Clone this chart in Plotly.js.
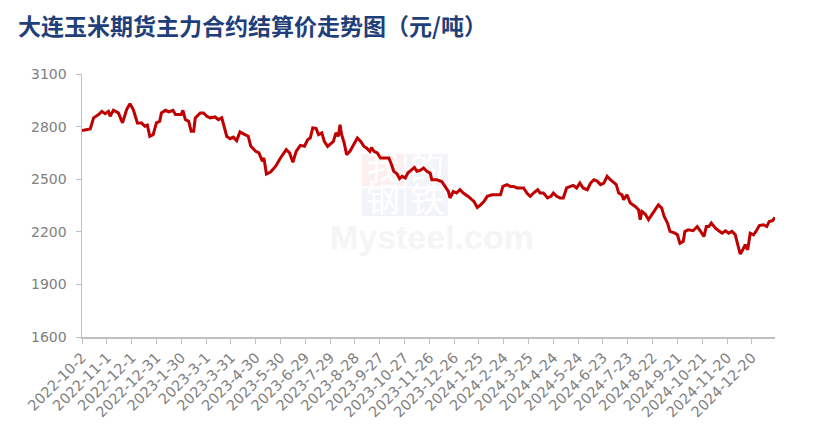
<!DOCTYPE html>
<html>
<head>
<meta charset="utf-8">
<script src="https://cdn.plot.ly/plotly-3.0.1.min.js"></script>
<style>html,body{margin:0;padding:0;background:#fff;}#chart{width:819px;height:441px;}</style>
</head>
<body>
<div id="chart"></div>
<script>
const dates = [
"2022-10-02","2022-10-12","2022-10-16","2022-10-22","2022-10-26","2022-10-30","2022-11-03","2022-11-05","2022-11-09","2022-11-15",
"2022-11-20","2022-11-25","2022-11-29","2022-12-03","2022-12-08","2022-12-13","2022-12-17","2022-12-20","2022-12-23","2022-12-27",
"2022-12-31","2023-01-04","2023-01-06","2023-01-11","2023-01-15","2023-01-20","2023-01-23","2023-01-30","2023-02-01","2023-02-04",
"2023-02-08","2023-02-11","2023-02-14","2023-02-16","2023-02-22","2023-02-26","2023-03-02","2023-03-06","2023-03-12","2023-03-16",
"2023-03-20","2023-03-23","2023-03-26","2023-03-30","2023-04-03","2023-04-07","2023-04-11","2023-04-17","2023-04-21","2023-04-24",
"2023-04-27","2023-04-30","2023-05-04","2023-05-08","2023-05-10","2023-05-13","2023-05-18","2023-05-24","2023-05-30","2023-06-03",
"2023-06-06","2023-06-10","2023-06-14","2023-06-18","2023-06-23","2023-06-28","2023-07-02","2023-07-05","2023-07-08","2023-07-12",
"2023-07-15","2023-07-19","2023-07-22","2023-07-26","2023-07-30","2023-08-02","2023-08-05","2023-08-08","2023-08-10","2023-08-12",
"2023-08-15","2023-08-18","2023-08-22","2023-08-26","2023-08-31","2023-09-04","2023-09-08","2023-09-11","2023-09-15","2023-09-17",
"2023-09-20","2023-09-24","2023-09-28","2023-10-04","2023-10-08","2023-10-11","2023-10-14","2023-10-18","2023-10-21","2023-10-24",
"2023-10-28","2023-10-31","2023-11-05","2023-11-08","2023-11-11","2023-11-15","2023-11-19","2023-11-23","2023-11-27","2023-11-29",
"2023-12-05","2023-12-11","2023-12-15","2023-12-19","2023-12-21","2023-12-25","2023-12-29","2024-01-02","2024-01-06","2024-01-12",
"2024-01-19","2024-01-23","2024-01-27","2024-01-31","2024-02-04","2024-02-10","2024-02-16","2024-02-20","2024-02-23","2024-02-28",
"2024-03-03","2024-03-07","2024-03-11","2024-03-15","2024-03-19","2024-03-23","2024-03-27","2024-03-31","2024-04-05","2024-04-08",
"2024-04-12","2024-04-17","2024-04-21","2024-04-24","2024-04-28","2024-05-02","2024-05-06","2024-05-10","2024-05-14","2024-05-18",
"2024-05-22","2024-05-26","2024-05-30","2024-06-04","2024-06-08","2024-06-12","2024-06-16","2024-06-20","2024-06-24","2024-06-28",
"2024-07-02","2024-07-06","2024-07-09","2024-07-12","2024-07-16","2024-07-18","2024-07-22","2024-07-26","2024-08-01","2024-08-05",
"2024-08-07","2024-08-09","2024-08-13","2024-08-17","2024-08-21","2024-08-25","2024-08-29","2024-09-02","2024-09-05","2024-09-09",
"2024-09-12","2024-09-18","2024-09-21","2024-09-24","2024-09-28","2024-09-30","2024-10-04","2024-10-10","2024-10-15","2024-10-19",
"2024-10-23","2024-10-26","2024-10-29","2024-11-01","2024-11-06","2024-11-10","2024-11-14","2024-11-18","2024-11-22","2024-11-26",
"2024-11-30","2024-12-03","2024-12-06","2024-12-09","2024-12-12","2024-12-15","2024-12-18","2024-12-22","2024-12-25","2024-12-29",
"2025-01-03","2025-01-07","2025-01-10","2025-01-14","2025-01-17"
];
const prices = [
2777,2787,2850,2869,2887,2874,2887,2859,2893,2878,
2821,2897,2931,2897,2821,2821,2802,2808,2745,2754,
2821,2830,2878,2893,2884,2893,2869,2869,2893,2840,
2830,2773,2773,2850,2878,2878,2859,2850,2855,2840,
2850,2793,2745,2731,2740,2720,2770,2754,2745,2690,
2675,2659,2650,2602,2621,2530,2541,2573,2621,2650,
2669,2650,2596,2659,2693,2688,2726,2735,2793,2790,
2754,2764,2716,2687,2707,2716,2764,2745,2811,2754,
2707,2640,2659,2697,2735,2716,2687,2678,2659,2680,
2659,2650,2621,2621,2621,2587,2545,2530,2503,2516,
2507,2535,2554,2567,2545,2550,2564,2545,2535,2497,
2497,2487,2459,2430,2393,2430,2421,2440,2421,2402,
2373,2339,2354,2373,2402,2411,2411,2411,2459,2469,
2459,2459,2450,2450,2450,2421,2402,2421,2440,2421,
2421,2393,2402,2421,2402,2393,2393,2450,2459,2465,
2450,2478,2450,2440,2478,2497,2489,2469,2478,2516,
2497,2478,2469,2421,2411,2383,2411,2364,2345,2326,
2269,2316,2301,2269,2297,2326,2354,2335,2287,2250,
2202,2192,2183,2135,2145,2202,2211,2206,2230,2202,
2173,2230,2230,2250,2221,2206,2192,2206,2192,2202,
2183,2126,2073,2097,2126,2097,2192,2183,2202,2236,
2240,2230,2259,2263,2282
];
const titleText = "大连玉米期货主力合约结算价走势图（元/吨）";
const yTicks = [1600, 1900, 2200, 2500, 2800, 3100];
const xStart = "2022-10-02";
const xEnd = "2025-01-17";
const watermarkChars = ["我", "的", "钢", "铁"];
const watermarkText = "Mysteel.com";

const trace = {
  x: dates, y: prices, type: "scatter", mode: "lines",
  line: {color: "#C00000", width: 3, shape: "linear"},
  hoverinfo: "x+y"
};
const tickFontY = {family: "'DejaVu Sans', sans-serif", size: 14, color: "#808080"};
const tickFontX = {family: "'DejaVu Sans', sans-serif", size: 14.5, color: "#808080"};

// faint watermark boxes (paper coordinates), drawn beneath the line
const wmBoxes = [
  {x0: 0.404, x1: 0.465, y0: 0.573, y1: 0.696, fill: "#FCEFEF"},
  {x0: 0.468, x1: 0.528, y0: 0.573, y1: 0.696, fill: "#F2F4F9"},
  {x0: 0.404, x1: 0.465, y0: 0.460, y1: 0.566, fill: "#F2F4F9"},
  {x0: 0.468, x1: 0.528, y0: 0.460, y1: 0.566, fill: "#F2F4F9"}
];
const shapes = wmBoxes.map((b, i) => ({
  type: "rect", xref: "paper", yref: "paper", layer: "below",
  x0: b.x0, x1: b.x1, y0: b.y0, y1: b.y1,
  fillcolor: b.fill, line: {width: 0},
  label: {text: watermarkChars[i], font: {family: "'Noto Sans CJK SC', sans-serif", size: 34, color: "#FFFFFF"}, textposition: "middle center"}
}));
shapes.push({
  type: "rect", xref: "paper", yref: "paper", layer: "below",
  x0: 0.36, x1: 0.65, y0: 0.33, y1: 0.455,
  fillcolor: "rgba(0,0,0,0)", line: {width: 0},
  label: {text: "<b>" + watermarkText + "</b>", font: {family: "'Liberation Sans', Arial, sans-serif", size: 34, color: "#F5F5F5"}, textposition: "middle center"}
});

const layout = {
  width: 819, height: 441,
  margin: {l: 82, r: 44, t: 74, b: 104},
  paper_bgcolor: "#ffffff", plot_bgcolor: "rgba(0,0,0,0)",
  showlegend: false,
  shapes: shapes,
  title: {
    text: "<b>" + titleText + "</b>",
    font: {family: "'Noto Sans CJK SC', sans-serif", size: 23, color: "#1F3F7A"},
    x: 0.022, xanchor: "left", y: 0.94, yanchor: "middle"
  },
  xaxis: {
    type: "date",
    range: [xStart, xEnd],
    tick0: xStart, dtick: 30 * 86400000,
    tickformat: "%Y-%-m-%-d",
    tickangle: -45,
    ticks: "outside", ticklen: 5, tickcolor: "#BFBFBF", tickwidth: 1,
    showline: true, linecolor: "#BFBFBF", linewidth: 1.5,
    showgrid: false, zeroline: false,
    tickfont: tickFontX
  },
  yaxis: {
    range: [1600, 3100],
    tickvals: yTicks,
    ticks: "outside", ticklen: 5, tickcolor: "#BFBFBF", tickwidth: 1,
    ticklabelstandoff: 6,
    showline: true, linecolor: "#BFBFBF", linewidth: 1.5,
    showgrid: false, zeroline: false,
    tickfont: tickFontY
  }
};
Plotly.newPlot("chart", [trace], layout, {staticPlot: true, displayModeBar: false});
</script>
</body>
</html>
